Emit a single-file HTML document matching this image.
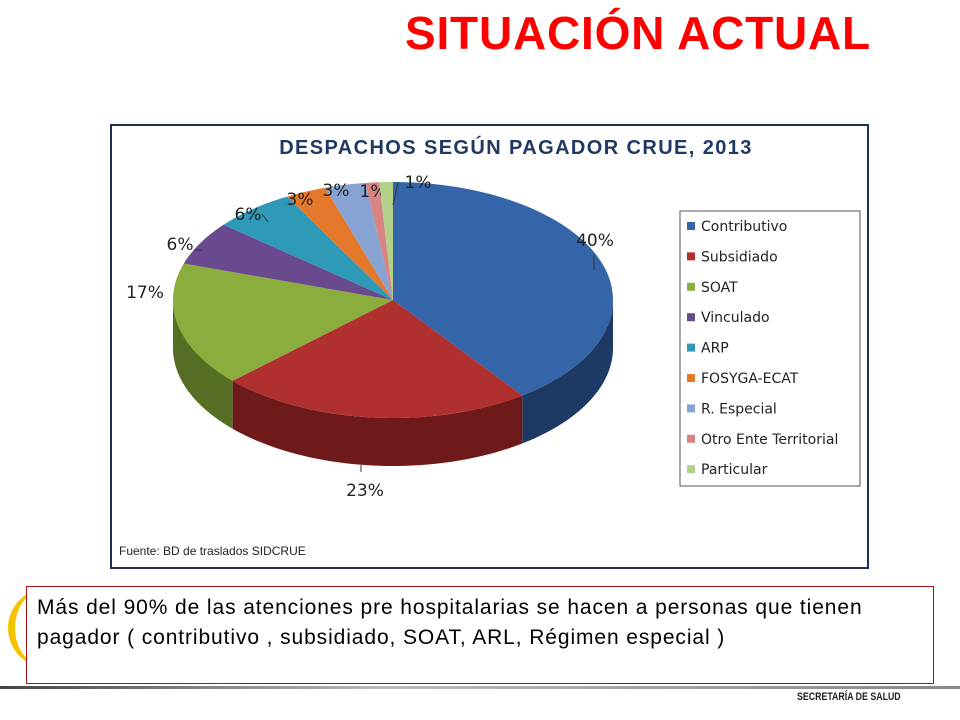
<!DOCTYPE html>
<html><head><meta charset="utf-8"><style>
body{margin:0;width:960px;height:720px;background:#fff;position:relative;overflow:hidden;font-family:"Liberation Sans",sans-serif}
.abs{position:absolute}
</style></head><body>
<div class="abs" style="left:405px;top:6px;font-size:46px;font-weight:bold;color:#ff0000;letter-spacing:0.8px">SITUACIÓN ACTUAL</div>
<div class="abs" style="left:110px;top:124px;width:755px;height:441px;border:2px solid #1f3057"></div>
<svg class="abs" style="left:0;top:0" width="960" height="720" id="svg"></svg>
<div class="abs" style="left:119px;top:544px;font-size:12px;color:#222">Fuente: BD de traslados SIDCRUE</div>
<div class="abs" style="left:8px;top:588px;width:40px;height:80px;border-left:7px solid #f5c400;border-radius:40px 0 0 40px"></div>
<div class="abs" style="left:26px;top:586px;width:908px;height:98px;border:1px solid #b01010;background:#fff;font-size:21px;letter-spacing:0.9px;line-height:30px;color:#000;padding:6px 0 0 10px;box-sizing:border-box">Más del 90% de las atenciones pre hospitalarias se hacen a personas que tienen<br>pagador ( contributivo , subsidiado, SOAT, ARL, Régimen especial )</div>
<div class="abs" style="left:0;top:686px;width:960px;height:3px;background:linear-gradient(to right,#444,#bbb 40%,#888)"></div>
<div class="abs" style="left:797px;top:691px;font-size:11px;font-weight:bold;color:#222;transform:scaleX(0.8);transform-origin:left">SECRETARÍA DE SALUD</div>
<script>
const categories=["Contributivo","Subsidiado","SOAT","Vinculado","ARP","FOSYGA-ECAT","R. Especial","Otro Ente Territorial","Particular"];
const values=[40,23,17,6,6,3,3,1,1];
const labels=["40%","23%","17%","6%","6%","3%","3%","1%","1%"];
const colors=["#3465a8","#b03030","#8aad3e","#6a4a8e","#2f9ab8","#e5782a","#86a3d3","#d88484","#b3d08a"];
const darks=["#1c3a64","#6e1a1a","#566e24","#402c58","#1c6074","#9a4c16","#566a8c","#8c5252","#748a56"];
const lblOff=[[595,240],[365,490],[145,292],[180,244],[248,214],[300,199],[336,190],[373,191],[418,182]];
const NS="http://www.w3.org/2000/svg",svg=document.getElementById('svg');
const cx=393,cy=300,rx=220,ry=118,dep=48;
function pt(t,dy){return [cx+rx*Math.sin(t),cy-ry*Math.cos(t)+(dy||0)];}
function mk(tag,attrs){const e=document.createElementNS(NS,tag);for(const k in attrs)e.setAttribute(k,attrs[k]);svg.appendChild(e);return e;}
const total=values.reduce((a,b)=>a+b,0);
let acc=0;const ang=values.map(v=>{const s=acc/total*2*Math.PI;acc+=v;return [s,acc/total*2*Math.PI];});
ang.forEach((a,i)=>{const s=Math.max(a[0],Math.PI/2),e=Math.min(a[1],1.5*Math.PI);if(e<=s)return;
 let d="";const n=40;for(let k=0;k<=n;k++){const p=pt(s+(e-s)*k/n);d+=(k?"L":"M")+p[0]+","+p[1];}
 for(let k=n;k>=0;k--){const p=pt(s+(e-s)*k/n,dep);d+="L"+p[0]+","+p[1];}
 const el=mk('path',{d:d+"Z",fill:darks[i]});
 
 
});
ang.forEach((a,i)=>{let d="M"+cx+","+cy;const n=60;for(let k=0;k<=n;k++){const p=pt(a[0]+(a[1]-a[0])*k/n);d+="L"+p[0]+","+p[1];}
 const el=mk('path',{d:d+"Z",fill:colors[i]});
 
 
 const t=mk('text',{x:lblOff[i][0],y:lblOff[i][1]+6,'font-size':17,'text-anchor':'middle',fill:'#222','font-family':'DejaVu Sans,sans-serif'});
 t.textContent=labels[i];
 
 
});
[[594,255,594,270],[361,465,361,472],[195,250,202,250],[262,214,268,222],[398,182,393,205]].forEach(l=>{mk('path',{d:`M${l[0]},${l[1]}L${l[2]},${l[3]}`,stroke:'#333','stroke-width':1,fill:'none'});});
const tt=mk('text',{x:516,y:154,'font-size':20,'font-weight':'bold','text-anchor':'middle',fill:'#1f3864','letter-spacing':'1.4','font-family':'Liberation Sans,sans-serif'});
tt.textContent="DESPACHOS SEGÚN PAGADOR CRUE, 2013";


const lb=mk('rect',{x:680,y:211,width:180,height:275,fill:'#fff',stroke:'#555','stroke-width':1});


categories.forEach((c,i)=>{const y=226+i*30.4;
 const r=mk('rect',{x:687,y:y-4,width:8,height:8,fill:colors[i]});
 
 
 const t=mk('text',{x:701,y:y+5,'font-size':14,fill:'#222','font-family':'DejaVu Sans,sans-serif'});
 t.textContent=c;
 
 
});
</script>
</body></html>
